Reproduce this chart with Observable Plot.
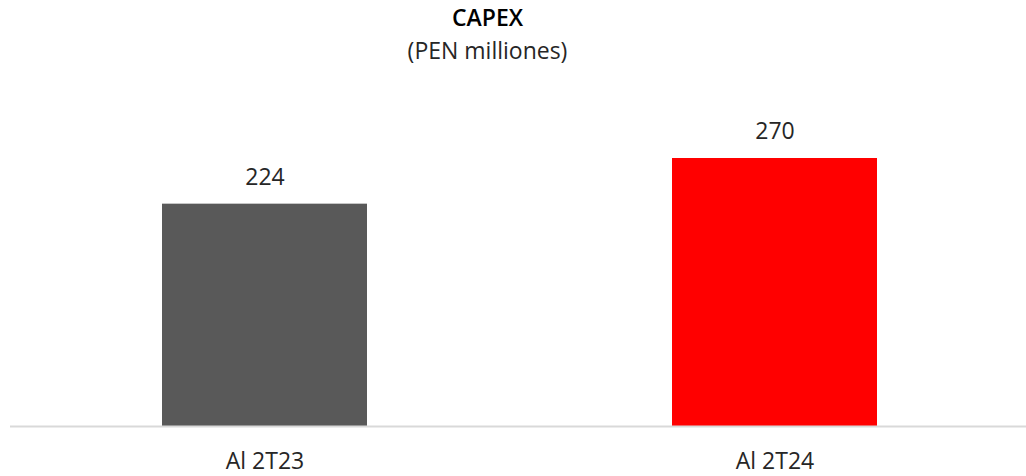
<!DOCTYPE html>
<html>
<head>
<meta charset="utf-8">
<script src="https://cdn.jsdelivr.net/npm/d3@7"></script>
<script src="https://cdn.jsdelivr.net/npm/@observablehq/plot@0.6"></script>
<style>
  html, body { margin: 0; padding: 0; background: #fff; }
  body { width: 1026px; height: 476px; overflow: hidden; font-family: "Open Sans", sans-serif; }
  #head { height: 80px; text-align: center; color: #262626; position: relative; }
  #title { position: absolute; left: 0; width: 975px; top: 1px; font-size: 23px; font-weight: 600; line-height: 32px; color: #000; }
  #subtitle { position: absolute; left: 0; width: 975px; top: 34px; font-size: 23px; font-weight: 400; line-height: 32px; color: #262626; }
</style>
</head>
<body>
<div id="head"><div id="title">CAPEX</div><div id="subtitle">(PEN milliones)</div></div>
<div id="chart"></div>
<script>
const categories = ["Al 2T23", "Al 2T24"];
const values = [224, 270];
const colors = ["#595959", "#FF0000"];

const data = categories.map((c, i) => ({category: c, value: values[i], color: colors[i]}));

const chart = Plot.plot({
  width: 1026,
  height: 396,
  marginTop: 78,
  marginBottom: 50,
  marginLeft: 10,
  marginRight: 0,
  style: {fontFamily: "Open Sans, sans-serif", color: "#262626", background: "#fff"},
  x: {domain: categories, range: [10, 1029], paddingInner: 0.598, paddingOuter: 0.298, label: null},
  y: {domain: [0, 270], axis: null},
  marks: [
    Plot.barY(data, {x: "category", y: "value", fill: "color"}),
    Plot.ruleY([0], {stroke: "#d9d9d9", strokeWidth: 2}),
    Plot.text(data, {x: "category", y: "value", text: d => String(d.value), dy: -27, fontSize: 23, fill: "#262626"}),
    Plot.axisX({tickSize: 0, tickPadding: 26, fontSize: 23, fill: "#262626", label: null})
  ]
});
document.getElementById("chart").appendChild(chart);
</script>
</body>
</html>
